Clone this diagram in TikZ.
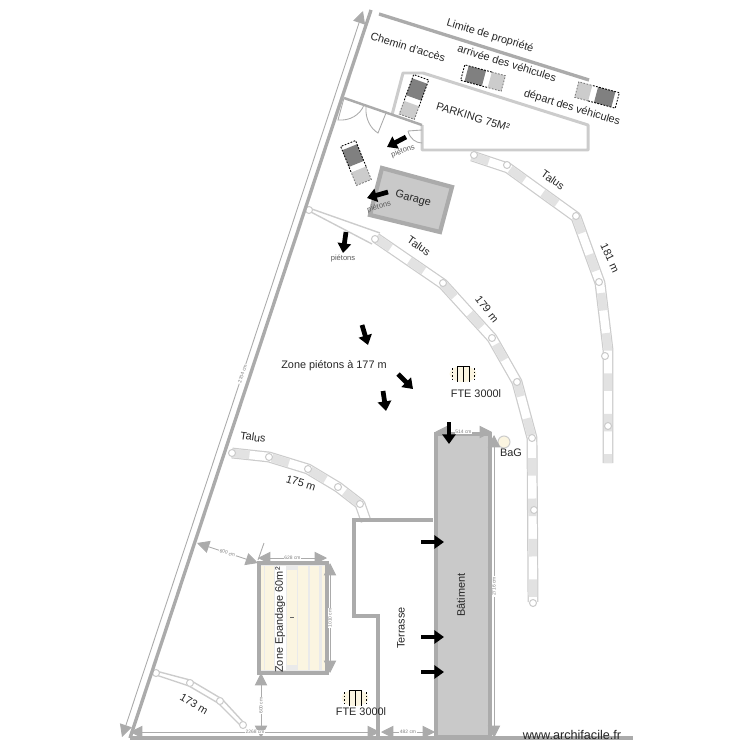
\documentclass[tikz,border=0pt]{standalone}
\usepackage{fontspec}
\setmainfont{Liberation Sans}
\usetikzlibrary{
    arrows.meta,
    calc,
    positioning
}
\definecolor{wallgray}{HTML}{ABABAB}
\definecolor{pavegray}{HTML}{CCCCCC}
\definecolor{roofgray}{HTML}{C9C9C9}
\definecolor{carshade}{HTML}{808080}
\definecolor{hatchgray}{HTML}{E2E2E2}
\definecolor{sandcream}{HTML}{FBF5E1}
\tikzset{
    wall/.style={draw=wallgray, line width=1.9pt},
    pave/.style={draw=pavegray, line width=1.7pt, line join=round},
    blockarrow/.style={draw=black, line width=2.7pt, -{Triangle[length=5.5pt,width=7.5pt]}},
    dimline/.style={draw=wallgray, line width=0.5pt, {Triangle[length=7pt,width=7pt]}-{Triangle[length=7pt,width=7pt]}},
    dimlabel/.style={text=gray, font=\fontsize{2.8pt}{3pt}\selectfont, fill=white, inner sep=0.4pt},
    label/.style={font=\fontsize{6.2pt}{7pt}\selectfont, text=black!85, inner sep=0pt},
    smalllabel/.style={font=\fontsize{4.3pt}{5pt}\selectfont, text=black!65, inner sep=0pt},
    talusedge/.style={draw=pavegray, line width=6.2pt, line join=round},
    talusfill/.style={draw=white, line width=4.8pt, line join=round},
    talushatch/.style={draw=hatchgray, line width=4.8pt, dash pattern=on 10pt off 13pt, line join=round},
    talusknot/.style={draw=pavegray, fill=white, line width=0.6pt},
    doorline/.style={draw=wallgray, line width=0.5pt},
    pics/car/.style={code={
        \fill[carshade] (-17,-8) rectangle (1,8);
        \fill[pavegray] (7,-8) rectangle (21,8);
        \draw[black, line width=0.5pt, dash pattern=on 1pt off 0.8pt] (7,-8) -- (-21,-8) -- (-21,8) -- (7,8);
        \draw[black!50, line width=0.5pt, dash pattern=on 1pt off 0.8pt] (7,-8) -- (21,-8) -- (21,8) -- (7,8);
    }},
    pics/fte/.style={code={
        \fill[sandcream] (0,0) ellipse (13.5 and 8);
        \draw[black, line width=0.4pt] (-6,-8) -- (6,-8) (-6,-8) -- (-6,8) (0,-8) -- (0,8) (6,-8) -- (6,8);
        \draw[black, line width=0.5pt, dash pattern=on 1pt off 1pt] (-11,-6) -- (-11,7) (11,-6) -- (11,7);
    }}
}
\newcommand{\talusband}[1]{
    \draw[talusedge] #1;
    \draw[talusfill] #1;
    \draw[talushatch] #1;
}
\begin{document}
\begin{tikzpicture}[x=0.02cm, y=-0.02cm]
    \useasboundingbox (0,0) rectangle (750,750);

    % talus bands
    \talusband{(472,156) -- (508,168) -- (576,217) -- (600,283) -- (608,350) -- (608,463)}
    \foreach \p in {(474,155),(507,165),(576,216),(599,282),(605,356),(608,426)}
        \draw[talusknot] \p circle (3.5);
    \draw[pave, line width=0.8pt] (309,208) -- (380,233) (309,211) -- (372,244);
    \talusband{(376,238) -- (443,284) -- (492,338) -- (517,382) -- (532,438) -- (533,602)}
    \foreach \p in {(309,210),(375,239),(443,283),(492,338),(517,382),(532,438),(534,510),(533,603)}
        \draw[talusknot] \p circle (3.5);
    \talusband{(232,453) -- (269,457) -- (308,469) -- (338,487) -- (360,504) -- (366,521)}
    \foreach \p in {(232,453),(269,457),(308,469),(338,487),(360,504)}
        \draw[talusknot] \p circle (3.5);
    \draw[pave, line width=0.8pt] (156,671) -- (190,680) -- (222,699) -- (245,724) (156,675) -- (189,686) -- (218,703) -- (241,726);
    \foreach \p in {(156,673),(190,683),(220,701),(243,725)}
        \draw[talusknot] \p circle (3.5);

    % site limits
    \draw[wall] (130,738) -- (371,10);
    \draw[wall] (379,14) -- (589,80);
    \draw[wall] (130,738) -- (633,738);
    \draw[wall] (433,520) -- (354,520) -- (354,616) -- (378,616) -- (378,738);

    % parking and access
    \draw[pave] (392,115) -- (403,73) -- (423,73) -- (588,125) -- (588,150) -- (422,150) -- (422,125);
    \draw[wall, line width=1.4pt] (344,98) -- (422,125);
    \draw[doorline] (344,98) -- (338,120) .. controls (350,121) and (360,115) .. (364,105);
    \draw[doorline] (386,113) -- (378,133) .. controls (371,129) and (365,119) .. (366,107);
    \draw[doorline] (408,131) -- (422,130);
    \draw[doorline] (408,131) .. controls (410,139) and (416,143) .. (422,143);

    % garage
    \draw[wall, line width=2.4pt, fill=roofgray] (382,168) -- (452,187) -- (440,232) -- (370,215) -- cycle;

    % cars
    \pic[rotate=-110] at (414,97) {car};
    \pic[rotate=-15] at (483,78) {car};
    \pic[rotate=165] at (597,95) {car};
    \pic[rotate=-68] at (356,163) {car};

    % batiment
    \draw[wall, line width=2.6pt, fill=roofgray] (436,434) rectangle (490,737);

    % zone epandage
    \draw[wall, line width=2.3pt, fill=wallgray!25] (259,563) rectangle (327,673);
    \foreach \a/\b in {261/264,265/274,298/308,310/319,322/325}
        \fill[sandcream] (\a,566) rectangle (\b,670);
    \fill[white] (275,566) rectangle (286,670);
    \fill[sandcream] (287,570) rectangle (297,665);
    \draw[black!60, line width=0.4pt] (290,617) -- (294,617);
    \draw[doorline] (264,543) -- (258,560);

    % tank and bag
    \pic at (463,374) {fte};
    \pic at (355,698) {fte};
    \draw[pavegray, fill=sandcream, line width=0.6pt] (504,442) circle (6);

    % dimensions
    \draw[dimline] (363,11) -- (122,737) node[pos=0.5, dimlabel, sloped] (dimSide) {2704 cm};
    \draw[dimline] (197,543) -- (258,563) node[pos=0.5, dimlabel, sloped] (dimGap) {600 cm};
    \draw[dimline] (258,558) -- (327,558) node[pos=0.5, dimlabel] (dimWidth) {628 cm};
    \draw[dimline] (330,563) -- (330,673) node[pos=0.5, dimlabel, rotate=90] (dimLength) {1010 cm};
    \draw[dimline] (261,673) -- (261,738) node[pos=0.5, dimlabel, rotate=90] (dimDown) {600 cm};
    \draw[dimline] (130,732) -- (380,732) node[pos=0.5, dimlabel] (dimBase) {2268 cm};
    \draw[dimline] (381,732) -- (435,732) node[pos=0.5, dimlabel] (dimStep) {482 cm};
    \draw[dimline] (435,432) -- (492,432) node[pos=0.5, dimlabel] (dimTop) {514 cm};
    \draw[dimline] (494,435) -- (494,738) node[pos=0.5, dimlabel, rotate=90] (dimRight) {2716 cm};

    % pedestrian arrows
    \draw[blockarrow] (406,137) -- (387,147);
    \draw[blockarrow] (388,192) -- (367,198);
    \draw[blockarrow] (346,232) -- (343,253);
    \draw[blockarrow] (362,325) -- (368,345);
    \draw[blockarrow] (398,374) -- (413,389);
    \draw[blockarrow] (383,391) -- (386,411);
    \draw[blockarrow] (449,422) -- (449,444);
    \foreach \y in {542,637,672}
        \draw[blockarrow] (421,\y) -- (444,\y);

    % labels
    \node[label, rotate=-17] (limite) at (490,36) {Limite de propriété};
    \node[label, rotate=-17] (chemin) at (408,47) {Chemin d'accès};
    \node[label, rotate=-17] (arrivee) at (507,63) {arrivée des véhicules};
    \node[label, rotate=-17] (depart) at (572,108) {départ des véhicules};
    \node[label, rotate=-17] (parking) at (473,117) {PARKING 75M²};
    \node[smalllabel, rotate=20] (pietonsA) at (403,151) {piétons};
    \node[label, rotate=-15] (garage) at (413,199) {Garage};
    \node[smalllabel, rotate=15] (pietonsB) at (379,207) {piétons};
    \node[smalllabel] (pietonsC) at (343,259) {piétons};
    \node[label, rotate=-35] (talusA) at (553,180) {Talus};
    \node[label, rotate=-65] (longA) at (610,258) {181 m};
    \node[label, rotate=-35] (talusB) at (419,246) {Talus};
    \node[label, rotate=-52] (longB) at (487,309) {179 m};
    \node[label] (zonePietons) at (334,366) {Zone piétons à 177 m};
    \node[label] (fteA) at (476,394) {FTE 3000l};
    \node[label] (fteB) at (361,712) {FTE 3000l};
    \node[label] (bag) at (511,453) {BaG};
    \node[label, rotate=-8] (talusC) at (253,437) {Talus};
    \node[label, rotate=-17] (longC) at (301,483) {175 m};
    \node[label, rotate=-30] (longD) at (194,704) {173 m};
    \node[label, rotate=90] (epandage) at (280,620) {Zone Epandage 60m²};
    \node[label, rotate=90] (terrasse) at (401,628) {Terrasse};
    \node[label, rotate=90] (batiment) at (461,595) {Bâtiment};
    \node[font=\fontsize{7.2pt}{8pt}\selectfont, text=black!85, inner sep=0pt] (site) at (572,735) {www.archifacile.fr};
\end{tikzpicture}
\end{document}
